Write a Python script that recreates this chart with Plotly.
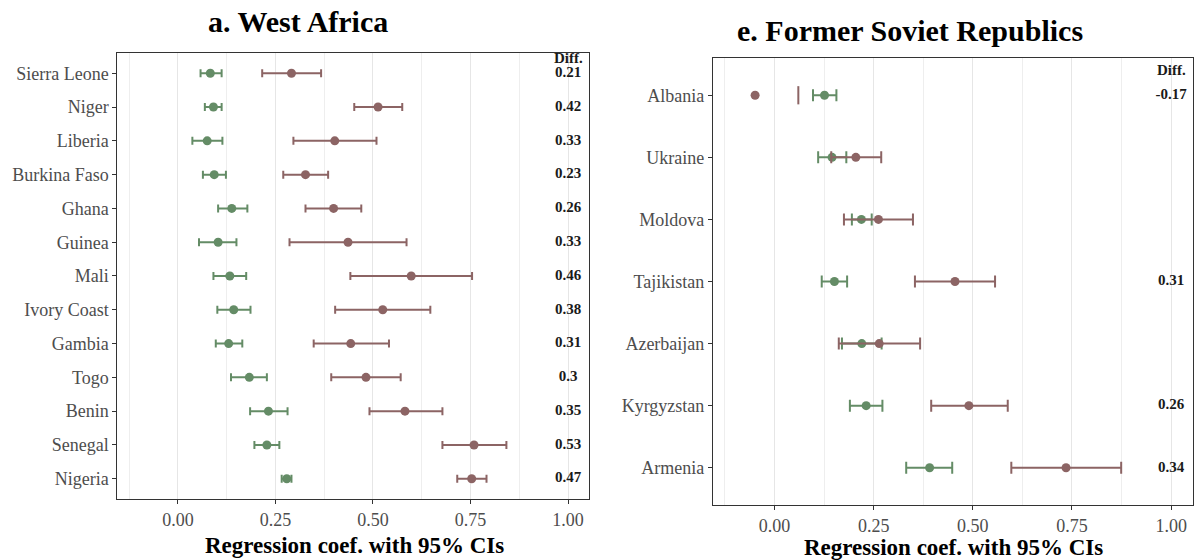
import plotly.graph_objects as go

# ---------------- data: West Africa ----------------
wa_countries = ["Sierra Leone", "Niger", "Liberia", "Burkina Faso", "Ghana", "Guinea", "Mali",
                "Ivory Coast", "Gambia", "Togo", "Benin", "Senegal", "Nigeria"]
wa_green = [0.083, 0.091, 0.075, 0.093, 0.138, 0.103, 0.133, 0.143, 0.130, 0.183, 0.232, 0.228, 0.279]
wa_green_lo = [0.058, 0.069, 0.037, 0.064, 0.103, 0.054, 0.091, 0.101, 0.097, 0.136, 0.185, 0.196, 0.266]
wa_green_hi = [0.112, 0.112, 0.114, 0.123, 0.178, 0.150, 0.175, 0.186, 0.165, 0.228, 0.281, 0.260, 0.291]
wa_brown = [0.291, 0.513, 0.402, 0.327, 0.399, 0.436, 0.598, 0.525, 0.443, 0.482, 0.582, 0.759, 0.753]
wa_brown_lo = [0.216, 0.452, 0.296, 0.270, 0.327, 0.286, 0.442, 0.403, 0.348, 0.393, 0.491, 0.678, 0.716]
wa_brown_hi = [0.367, 0.575, 0.509, 0.385, 0.470, 0.586, 0.754, 0.647, 0.541, 0.571, 0.678, 0.842, 0.791]
wa_diff = ["0.21", "0.42", "0.33", "0.23", "0.26", "0.33", "0.46", "0.38", "0.31", "0.3", "0.35", "0.53", "0.47"]

# ---------------- data: Former Soviet Republics ----------------
fs_countries = ["Albania", "Ukraine", "Moldova", "Tajikistan", "Azerbaijan", "Kyrgyzstan", "Armenia"]
fs_green = [0.126, 0.145, 0.219, 0.151, 0.220, 0.231, 0.391]
fs_green_lo = [0.097, 0.110, 0.195, 0.119, 0.170, 0.190, 0.332]
fs_green_hi = [0.156, 0.181, 0.245, 0.183, 0.270, 0.272, 0.448]
fs_brown = [-0.049, 0.205, 0.262, 0.455, 0.264, 0.490, 0.735]
fs_brown_lo = [None, 0.143, 0.175, 0.354, 0.162, 0.395, 0.597]
fs_brown_hi = [0.060, 0.269, 0.349, 0.556, 0.367, 0.588, 0.874]
fs_diff = ["-0.17", "", "", "0.31", "", "0.26", "0.34"]

x_ticks = [0.0, 0.25, 0.5, 0.75, 1.0]
x_tick_text = ["0.00", "0.25", "0.50", "0.75", "1.00"]
x_range = [-0.155, 1.055]

GREEN = "#648c66"
BROWN = "#8c6464"
SERIF = "Liberation Serif, Times New Roman, serif"

fig = go.Figure()


def add_panel(countries, g, glo, ghi, b, blo, bhi, diffs, xa, ya, cap, diff_off):
    n = len(countries)
    ypos = [n - 1 - i for i in range(n)]
    xref = "x" if xa == "x1" else xa
    yref = "y" if ya == "y1" else ya
    for pts, lo, hi, col in ((g, glo, ghi, GREEN), (b, blo, bhi, BROWN)):
        idx = [i for i in range(n) if lo[i] is not None and hi[i] is not None]
        # error bars
        fig.add_trace(go.Scatter(
            x=[pts[i] for i in idx], y=[ypos[i] for i in idx], mode="markers",
            marker=dict(size=0.1, color=col, opacity=0),
            error_x=dict(type="data", symmetric=False,
                         array=[hi[i] - pts[i] for i in idx],
                         arrayminus=[pts[i] - lo[i] for i in idx],
                         color=col, thickness=2, width=cap),
            xaxis=xref, yaxis=yref, showlegend=False, hoverinfo="skip"))
        # lone caps where only one CI end is available
        lone = [i for i in range(n) if (lo[i] is None) != (hi[i] is None)]
        if lone:
            fig.add_trace(go.Scatter(
                x=[hi[i] if hi[i] is not None else lo[i] for i in lone],
                y=[ypos[i] for i in lone], mode="markers",
                marker=dict(symbol="line-ns-open", size=2 * cap + 1, color=col,
                            line=dict(color=col, width=2)),
                xaxis=xref, yaxis=yref, showlegend=False, hoverinfo="skip"))
        # points
        fig.add_trace(go.Scatter(
            x=pts, y=ypos, mode="markers",
            marker=dict(size=9, color=col),
            xaxis=xref, yaxis=yref, showlegend=False))
    # diff text
    fig.add_trace(go.Scatter(
        x=[1.0] * n, y=ypos, mode="text", text=diffs,
        textfont=dict(family=SERIF, size=15, color="#1a1a1a"),
        textposition="middle center",
        xaxis=xref, yaxis=yref, showlegend=False, hoverinfo="skip"))
    fig.add_annotation(x=1.0, y=n - 1 + diff_off, xref=xref, yref=yref,
                       text="<b>Diff.</b>", showarrow=False,
                       font=dict(family=SERIF, size=15, color="#1a1a1a"),
                       xanchor="center", yanchor="middle")
    return ypos


yp1 = add_panel(wa_countries, wa_green, wa_green_lo, wa_green_hi, wa_brown, wa_brown_lo,
                wa_brown_hi, ["<b>%s</b>" % d for d in wa_diff], "x1", "y1", 4, 0.44)
yp2 = add_panel(fs_countries, fs_green, fs_green_lo, fs_green_hi, fs_brown, fs_brown_lo,
                fs_brown_hi, ["<b>%s</b>" % d for d in fs_diff], "x2", "y2", 6, 0.40)

xcommon = dict(range=x_range, tickvals=x_ticks, ticktext=x_tick_text,
               showgrid=True, gridcolor="#e6e6e6", gridwidth=1.3,
               minor=dict(dtick=0.25, tick0=0.125, showgrid=True, gridcolor="#eeeeee", gridwidth=0.8),
               showline=True, linecolor="#333333", linewidth=1.2, mirror=True,
               ticks="outside", ticklen=4, tickcolor="#333333", tickwidth=1.2,
               tickfont=dict(family=SERIF, size=18, color="#4d4d4d"),
               zeroline=False, fixedrange=True)
ycommon = dict(showgrid=False, zeroline=False,
               showline=True, linecolor="#333333", linewidth=1.2, mirror=True,
               ticks="outside", ticklen=4, tickcolor="#333333", tickwidth=1.2,
               tickfont=dict(family=SERIF, size=18, color="#4d4d4d"), fixedrange=True)

fig.update_layout(
    width=1195, height=560,
    margin=dict(l=0, r=0, t=0, b=0),
    paper_bgcolor="white", plot_bgcolor="white",
    xaxis=dict(domain=[0.0983, 0.4933], anchor="y", **xcommon),
    yaxis=dict(domain=[0.1089, 0.9054], anchor="x", range=[-0.6, len(wa_countries) - 0.4],
               tickvals=yp1, ticktext=wa_countries, **ycommon),
    xaxis2=dict(domain=[0.5967, 0.9983], anchor="y2", **xcommon),
    yaxis2=dict(domain=[0.0982, 0.8964], anchor="x2", range=[-0.6, len(fs_countries) - 0.4],
                tickvals=yp2, ticktext=fs_countries, **ycommon),
)

# titles
fig.add_annotation(x=298 / 1195, y=1 - 22 / 560, xref="paper", yref="paper",
                   text="<b>a. West Africa</b>", showarrow=False,
                   font=dict(family=SERIF, size=30, color="black"), xanchor="center", yanchor="middle")
fig.add_annotation(x=910 / 1195, y=1 - 30 / 560, xref="paper", yref="paper",
                   text="<b>e. Former Soviet Republics</b>", showarrow=False,
                   font=dict(family=SERIF, size=30, color="black"), xanchor="center", yanchor="middle")
fig.add_annotation(x=354 / 1195, y=1 - 545 / 560, xref="paper", yref="paper",
                   text="<b>Regression coef. with 95% CIs</b>", showarrow=False,
                   font=dict(family=SERIF, size=23, color="black"), xanchor="center", yanchor="middle")
fig.add_annotation(x=953 / 1195, y=1 - 547 / 560, xref="paper", yref="paper",
                   text="<b>Regression coef. with 95% CIs</b>", showarrow=False,
                   font=dict(family=SERIF, size=23, color="black"), xanchor="center", yanchor="middle")

fig.write_html("out.html", config={"displayModeBar": False},
               post_script="document.body.style.margin='0px';")
